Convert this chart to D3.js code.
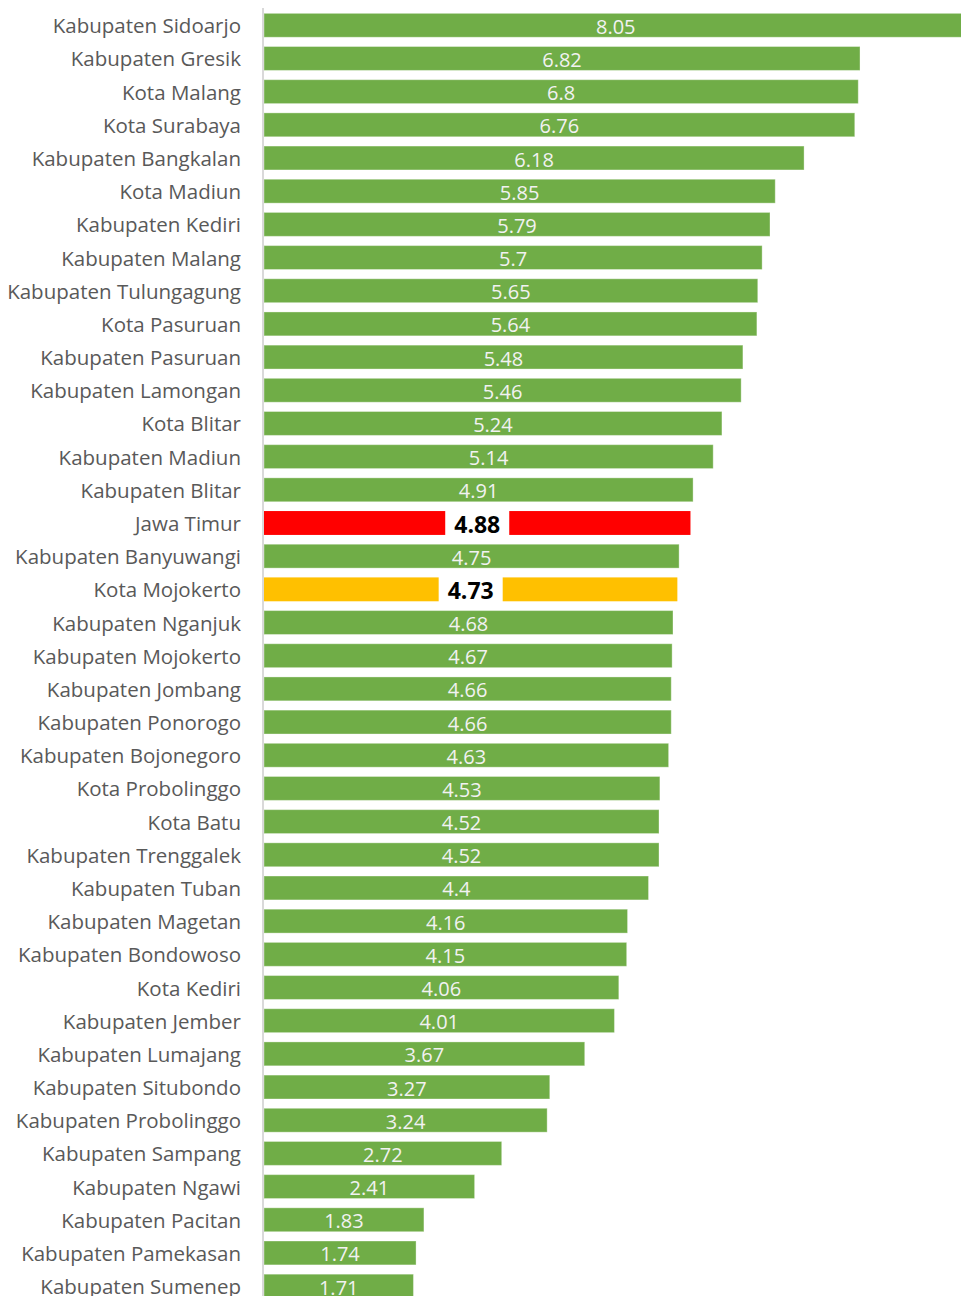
<!DOCTYPE html>
<html><head><meta charset="utf-8">
<script src="https://cdn.jsdelivr.net/npm/d3@7"></script>
<style>html,body{margin:0;padding:0;background:#fff;overflow:hidden}</style>
</head><body>
<script>
const categories = ["Kabupaten Sidoarjo","Kabupaten Gresik","Kota Malang","Kota Surabaya","Kabupaten Bangkalan","Kota Madiun","Kabupaten Kediri","Kabupaten Malang","Kabupaten Tulungagung","Kota Pasuruan","Kabupaten Pasuruan","Kabupaten Lamongan","Kota Blitar","Kabupaten Madiun","Kabupaten Blitar","Jawa Timur","Kabupaten Banyuwangi","Kota Mojokerto","Kabupaten Nganjuk","Kabupaten Mojokerto","Kabupaten Jombang","Kabupaten Ponorogo","Kabupaten Bojonegoro","Kota Probolinggo","Kota Batu","Kabupaten Trenggalek","Kabupaten Tuban","Kabupaten Magetan","Kabupaten Bondowoso","Kota Kediri","Kabupaten Jember","Kabupaten Lumajang","Kabupaten Situbondo","Kabupaten Probolinggo","Kabupaten Sampang","Kabupaten Ngawi","Kabupaten Pacitan","Kabupaten Pamekasan","Kabupaten Sumenep"];
const values = [8.05,6.82,6.8,6.76,6.18,5.85,5.79,5.7,5.65,5.64,5.48,5.46,5.24,5.14,4.91,4.88,4.75,4.73,4.68,4.67,4.66,4.66,4.63,4.53,4.52,4.52,4.4,4.16,4.15,4.06,4.01,3.67,3.27,3.24,2.72,2.41,1.83,1.74,1.71];
const highlights = {"Jawa Timur":"#FF0000","Kota Mojokerto":"#FFC000"};

const W = 961, H = 1296;
const svg = d3.select("body").append("svg").attr("width", W).attr("height", H);
const data = categories.map((c,i)=>({c, v: values[i]}));

const x = d3.scaleLinear().domain([0, 8.05]).range([264, 967.5]);
const y = d3.scaleBand().domain(categories).range([8.7, 8.7 + 39*33.18]).paddingInner(0.28).paddingOuter(0.14);

svg.append("g").selectAll("rect").data(data).join("rect")
  .attr("x", x(0)).attr("y", d=>y(d.c))
  .attr("width", d=>x(d.v)-x(0)).attr("height", y.bandwidth())
  .attr("fill", d=>highlights[d.c] || "#70AD47")
  .attr("stroke", d=>highlights[d.c] ? "none" : "rgba(255,255,255,0.35)").attr("stroke-width",1);

// axis line
svg.append("line").attr("x1",263).attr("x2",263).attr("y1",8).attr("y2",H).attr("stroke","#d9d9d9").attr("stroke-width",2);

// category labels
svg.append("g").selectAll("text").data(data).join("text")
  .attr("x", 241).attr("y", d=>y(d.c)+y.bandwidth()/2)
  .attr("text-anchor","end").attr("dominant-baseline","central")
  .attr("font-family","'Open Sans', sans-serif").attr("font-size",20.5).attr("fill","#595959")
  .text(d=>d.c);

// value labels
const vg = svg.append("g").selectAll("g").data(data).join("g")
  .attr("transform", d=>`translate(${(x(0)+x(d.v))/2},${y(d.c)+y.bandwidth()/2})`);
vg.each(function(d){
  const g = d3.select(this);
  const hl = !!highlights[d.c];
  const t = g.append("text").attr("text-anchor","middle").attr("dominant-baseline","central")
    .attr("font-family","'Open Sans', sans-serif")
    .attr("font-size", hl?23:20).attr("font-weight", hl?"bold":"normal")
    .attr("fill", hl?"#000":"#f2f2f2").attr("y",1).text(d.v);
  if (hl) {
    const bb = t.node().getBBox();
    g.insert("rect","text").attr("x", bb.x-9).attr("width", bb.width+18)
      .attr("y", -y.bandwidth()/2-1).attr("height", y.bandwidth()+2).attr("fill","#fff");
  }
});
</script>
</body></html>
